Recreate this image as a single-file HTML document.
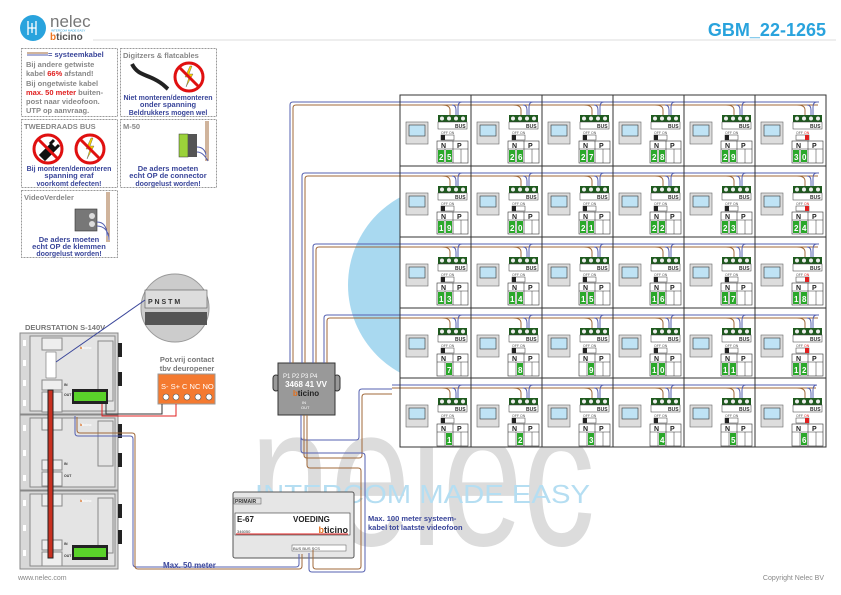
<!DOCTYPE html>
<html><head><meta charset="utf-8"><style>
html,body{margin:0;padding:0;background:#fff}
svg{display:block;font-family:"Liberation Sans",sans-serif}
</style></head><body>
<svg id="s" width="841" height="595" viewBox="0 0 841 595" xmlns="http://www.w3.org/2000/svg">
<!-- watermark -->
<circle cx="448" cy="285" r="100" fill="#a9d9f0"/>
<rect x="408" y="230" width="12" height="120" fill="#fff"/>
<text x="250" y="545" font-size="200" fill="#dcdcdc" textLength="345" lengthAdjust="spacingAndGlyphs">nelec</text>
<text x="255" y="503" font-size="26" fill="#b5def2" textLength="335" lengthAdjust="spacingAndGlyphs">INTERCOM MADE EASY</text>

<!-- header -->
<circle cx="33" cy="28" r="13" fill="#29a3dd"/>
<path d="M28 21v14M32 23v10M36 21v14M28 28h8" stroke="#fff" stroke-width="1.3" fill="none"/>
<text x="50" y="27" font-size="17" fill="#777">nelec</text>
<text x="51" y="31.5" font-size="3" fill="#29a3dd">INTERCOM MADE EASY</text>
<text x="50" y="40" font-size="10" font-weight="bold" fill="#ee7722">b<tspan fill="#555">ticino</tspan></text>
<line x1="93" y1="40" x2="836" y2="40" stroke="#ddd" stroke-width="1"/>
<text x="826" y="36" font-size="18" font-weight="bold" fill="#29a3dd" text-anchor="end">GBM_22-1265</text>

<!-- left info boxes -->
<g fill="none" stroke="#999" stroke-dasharray="2,1" stroke-width="1">
<rect x="21.5" y="48.5" width="96" height="68"/>
<rect x="120.5" y="48.5" width="96" height="68"/>
<rect x="21.5" y="119.5" width="96" height="68"/>
<rect x="120.5" y="119.5" width="96" height="68"/>
<rect x="21.5" y="190.5" width="96" height="67"/>
</g>
<g font-size="7.5" font-weight="bold">
<line x1="27" y1="53" x2="48" y2="53" stroke="#a0693a"/><line x1="27" y1="55" x2="48" y2="55" stroke="#5560b0"/>
<text x="48" y="57" fill="#3a469a">= systeemkabel</text>
<text x="26" y="67" fill="#888">Bij andere getwiste</text>
<text x="26" y="76" fill="#888">kabel <tspan fill="#e02020">66%</tspan> afstand!</text>
<text x="26" y="86" fill="#888">Bij ongetwiste kabel</text>
<text x="26" y="95" fill="#e02020">max. 50 meter <tspan fill="#888">buiten-</tspan></text>
<text x="26" y="104" fill="#888">post naar videofoon.</text>
<text x="26" y="113" fill="#888">UTP op aanvraag.</text>

<text x="123" y="58" fill="#888">Digitzers &amp; flatcables</text>
<path d="M132 64c5 10 12 10 22 15s10 7 14 10" stroke="#222" stroke-width="4" fill="none"/>
<circle cx="189" cy="77" r="14" fill="#fff" stroke="#e01010" stroke-width="3"/>
<path d="M190 66l-5 11h4l-3 10 7-13h-4l3-8z" fill="#f5d000" stroke="#555" stroke-width=".4"/>
<line x1="179" y1="67" x2="199" y2="87" stroke="#e01010" stroke-width="3"/>
<text x="168" y="100" fill="#3a469a" text-anchor="middle" font-size="7">Niet monteren/demonteren</text>
<text x="168" y="107" fill="#3a469a" text-anchor="middle">onder spanning</text>
<text x="168" y="115" fill="#3a469a" text-anchor="middle" font-size="7">Beldrukkers mogen wel</text>

<text x="24" y="129" fill="#888">TWEEDRAADS BUS</text>
<circle cx="48" cy="149" r="14" fill="#fff" stroke="#e01010" stroke-width="3"/>
<path d="M41 155l10-10 4 4-10 10z M50 144l4-4M55 149l4-4" stroke="#111" stroke-width="3" fill="#111"/>
<line x1="38" y1="139" x2="58" y2="159" stroke="#e01010" stroke-width="3"/>
<circle cx="90" cy="149" r="14" fill="#fff" stroke="#e01010" stroke-width="3"/>
<path d="M91 138l-5 11h4l-3 10 7-13h-4l3-8z" fill="#f5d000" stroke="#555" stroke-width=".4"/>
<line x1="80" y1="139" x2="100" y2="159" stroke="#e01010" stroke-width="3"/>
<text x="69" y="171" fill="#3a469a" text-anchor="middle" font-size="7">Bij monteren/demonteren</text>
<text x="69" y="178" fill="#3a469a" text-anchor="middle">spanning eraf</text>
<text x="69" y="186" fill="#3a469a" text-anchor="middle" font-size="7">voorkomt defecten!</text>

<text x="123" y="129" fill="#888">M-50</text>
<rect x="179" y="134" width="9" height="23" fill="#9bd23a" stroke="#333" stroke-width=".5"/>
<rect x="188" y="134" width="9" height="23" fill="#555"/>
<path d="M206 121v40M208 121v40" stroke="#a0693a" stroke-width="1"/>
<path d="M197 147c5 0 8 3 9 8M197 152c5 0 8 4 11 9" stroke="#5560b0" fill="none"/>
<text x="168" y="171" fill="#3a469a" text-anchor="middle">De aders moeten</text>
<text x="168" y="178" fill="#3a469a" text-anchor="middle">echt OP de connector</text>
<text x="168" y="186" fill="#3a469a" text-anchor="middle" font-size="7">doorgelust worden!</text>

<text x="24" y="200" fill="#888">VideoVerdeler</text>
<rect x="75" y="209" width="22" height="22" fill="#777" stroke="#333" stroke-width=".6"/>
<circle cx="92" cy="216" r="3" fill="#ddd"/><circle cx="92" cy="224" r="3" fill="#ddd"/>
<path d="M107 192v50M109 192v50" stroke="#a0693a"/>
<path d="M97 222c6 0 10 4 10 14M97 226c6 0 12 4 12 14" stroke="#5560b0" fill="none"/>
<text x="69" y="242" fill="#3a469a" text-anchor="middle">De aders moeten</text>
<text x="69" y="249" fill="#3a469a" text-anchor="middle">echt OP de klemmen</text>
<text x="69" y="256" fill="#3a469a" text-anchor="middle" font-size="7">doorgelust worden!</text>
</g>

<!-- deurstation -->
<text x="25" y="330" font-size="7.5" font-weight="bold" fill="#777">DEURSTATION S-140V</text>
<g stroke="#888" stroke-width="1">
<rect x="20" y="333" width="98" height="81" fill="#d8d8d8"/>
<rect x="20" y="415" width="98" height="75" fill="#d8d8d8"/>
<rect x="20" y="491" width="98" height="78" fill="#d8d8d8"/>
<rect x="30" y="336" width="85" height="75" fill="#e4e4e4"/>
<rect x="30" y="418" width="85" height="69" fill="#e4e4e4"/>
<rect x="30" y="494" width="85" height="72" fill="#e4e4e4"/>
<rect x="42" y="338" width="20" height="12" fill="#eee"/>
<rect x="42" y="418" width="20" height="12" fill="#eee"/>
<rect x="42" y="494" width="20" height="12" fill="#eee"/>
<rect x="42" y="380" width="20" height="10" fill="#eee"/><rect x="42" y="392" width="20" height="20" fill="#eee"/>
<rect x="42" y="460" width="20" height="10" fill="#eee"/><rect x="42" y="472" width="20" height="14" fill="#eee"/>
<rect x="42" y="540" width="20" height="10" fill="#eee"/><rect x="42" y="552" width="20" height="14" fill="#eee"/>
<rect x="98" y="341" width="15" height="60" fill="none"/>
<rect x="98" y="421" width="15" height="45" fill="none"/>
<rect x="98" y="498" width="15" height="55" fill="none"/>
</g>
<rect x="46" y="352" width="10" height="26" fill="#fff" stroke="#555" stroke-width=".5"/>
<g fill="#222"><rect x="118" y="343" width="4" height="14"/><rect x="118" y="372" width="4" height="14"/><rect x="118" y="424" width="4" height="14"/><rect x="118" y="453" width="4" height="14"/><rect x="118" y="504" width="4" height="14"/><rect x="118" y="530" width="4" height="14"/></g>
<g fill="#fff"><rect x="23" y="340" width="3" height="6"/><rect x="23" y="360" width="3" height="6"/><rect x="23" y="380" width="3" height="6"/><rect x="23" y="400" width="3" height="6"/><rect x="23" y="425" width="3" height="6"/><rect x="23" y="450" width="3" height="6"/><rect x="23" y="475" width="3" height="6"/><rect x="23" y="500" width="3" height="6"/><rect x="23" y="525" width="3" height="6"/><rect x="23" y="550" width="3" height="6"/></g>
<rect x="48" y="390" width="5" height="168" fill="#c83020" stroke="#222" stroke-width="1"/>
<rect x="72" y="389" width="36" height="15" fill="#222"/>
<rect x="74" y="392" width="32" height="9" fill="#5ad22a"/>
<rect x="72" y="545" width="36" height="15" fill="#222"/>
<rect x="74" y="548" width="32" height="9" fill="#5ad22a"/>
<g font-size="3.5" font-weight="bold" fill="#333"><text x="64" y="386">IN</text><text x="64" y="396">OUT</text><text x="64" y="465">IN</text><text x="64" y="477">OUT</text><text x="64" y="545">IN</text><text x="64" y="557">OUT</text>
<text x="80" y="349" fill="#e07020">b<tspan fill="#fff">ticino</tspan></text><text x="80" y="426" fill="#e07020">b<tspan fill="#fff">ticino</tspan></text><text x="80" y="502" fill="#e07020">b<tspan fill="#fff">ticino</tspan></text></g>
<!-- zoom circle -->
<circle cx="175" cy="308" r="34" fill="#ccc" stroke="#999"/>
<rect x="145" y="290" width="62" height="18" fill="#ddd" stroke="#555" stroke-width=".6"/>
<rect x="145" y="312" width="62" height="13" fill="#555"/>
<text x="148" y="304" font-size="7" font-weight="bold" fill="#333">P  N S T M</text>
<line x1="145" y1="300" x2="56" y2="362" stroke="#3a469a" stroke-width="1"/>
<!-- pot vrij -->
<text x="187" y="362" font-size="7.5" font-weight="bold" fill="#777" text-anchor="middle">Pot.vrij contact</text>
<text x="187" y="371" font-size="7.5" font-weight="bold" fill="#777" text-anchor="middle">tbv deuropener</text>
<rect x="158" y="374" width="57" height="30" fill="#f47a30" stroke="#999"/>
<text x="161" y="389" font-size="7.5" fill="#fff">S-  S+ C NC NO</text>
<g fill="#fff" stroke="#555" stroke-width=".6"><circle cx="166" cy="397" r="3"/><circle cx="176" cy="397" r="3"/><circle cx="187" cy="397" r="3"/><circle cx="198" cy="397" r="3"/><circle cx="209" cy="397" r="3"/></g>
<path d="M106 404v10h56v-10" stroke="#333" fill="none"/>
<path d="M102 404v12h74v-12" stroke="#e02020" fill="none"/>

<!-- distributor -->
<rect x="273" y="375" width="6" height="16" rx="3" fill="#999" stroke="#333"/>
<rect x="334" y="375" width="6" height="16" rx="3" fill="#999" stroke="#333"/>
<rect x="278" y="363" width="57" height="52" fill="#999" stroke="#333"/>
<text x="306" y="387" font-size="8" font-weight="bold" fill="#fff" text-anchor="middle">3468 41  VV</text>
<text x="306" y="396" font-size="8" font-weight="bold" fill="#e07020" text-anchor="middle">b<tspan fill="#222">ticino</tspan></text>
<text x="283" y="378" font-size="6" fill="#fff">P1 P2 P3 P4</text>
<text x="302" y="404" font-size="4" fill="#fff">IN</text>
<text x="301" y="409" font-size="4" fill="#fff">OUT</text>

<!-- voeding -->
<rect x="233" y="492" width="121" height="66" rx="2" fill="#e6e6e6" stroke="#555"/>
<rect x="234" y="498" width="27" height="6" fill="#ddd" stroke="#555" stroke-width=".5"/>
<text x="235" y="503" font-size="5" font-weight="bold" fill="#333">PRIMAIR</text>
<rect x="235" y="513" width="115" height="22" fill="#fff" stroke="#333" stroke-width=".6"/>
<line x1="236" y1="534" x2="348" y2="534" stroke="#e02020"/>
<text x="237" y="522" font-size="8" font-weight="bold" fill="#222">E-67</text>
<text x="293" y="522" font-size="8" font-weight="bold" fill="#222">VOEDING</text>
<text x="237" y="533" font-size="4" fill="#333">346050</text>
<text x="348" y="533" font-size="9" font-weight="bold" fill="#e07020" text-anchor="end">b<tspan fill="#222">ticino</tspan></text>
<rect x="292" y="545" width="54" height="6" fill="#fff" stroke="#555" stroke-width=".5"/>
<text x="293" y="550" font-size="4" fill="#333">BUS BUS  SCS</text>
<text x="368" y="521" font-size="7.5" font-weight="bold" fill="#3a469a">Max. 100 meter systeem-</text>
<text x="368" y="530" font-size="7.5" font-weight="bold" fill="#3a469a">kabel tot laatste videofoon</text>
<text x="163" y="568" font-size="8" font-weight="bold" fill="#3a469a">Max. 50 meter</text>

<!-- main wires -->
<g fill="none" stroke-width="1">
<path d="M301 415v22q0 3 3 3h52q3 0 3 -3v-45q0 -3 3 -3h30" stroke="#5560b0"/>
<path d="M304 415v40q0 3 3 3h52q3 0 3-3v-58q0-3 3-3h27" stroke="#a0693a"/>
<path d="M307 415v50q0 3 3 3h48q3 0 3 3v95q0 3-3 3h-42q-3 0-3-3v-16" stroke="#a0693a"/>
<path d="M301 437v13q0 3 3 3h58q3 0 3 3v113q0 3-3 3h-50q-3 0-3-3v-16" stroke="#5560b0" />
<path d="M299 554v10q0 3-3 3h-160q-3 0-3-3v-125q0-3-3-3h-52q-3 0-3-3v-17" stroke="#5560b0"/>
<path d="M302 554v12q0 3-3 3h-161q-3 0-3-3v-130q0-3-3-3h-52q-3 0-3-3v-13" stroke="#a0693a"/>
</g>
<g id="grid"></g>
<text x="18" y="580" font-size="7" fill="#888">www.nelec.com</text>
<text x="824" y="580" font-size="7" fill="#888" text-anchor="end">Copyright Nelec BV</text>
</svg>
<script>
var g=document.getElementById('grid'),h='';
var xs=[400,471,542,613,684,755,826],ys=[95,166,237,308,378,447];
var nums=[[25,26,27,28,29,30],[19,20,21,22,23,24],[13,14,15,16,17,18],[7,8,9,10,11,12],[1,2,3,4,5,6]];
h+='<rect x="400" y="95" width="426" height="352" fill="#fff" stroke="#333" stroke-width="1"/>';
for(var r=0;r<5;r++){var y0=ys[r];
 var lx=[290,302,313,324,360][r];
 if(r<4){h+='<path d="M'+(lx)+' 363V'+(y0+10)+'q0-3 3-3h'+(xs[6]-lx-10)+'" stroke="#5560b0" fill="none"/>';
 h+='<path d="M'+(lx+3)+' 363V'+(y0+13)+'q0-3 3-3h'+(xs[6]-lx-14)+'" stroke="#a0693a" fill="none"/>';}
 else{h+='<path d="M392 '+(y0+7)+'h'+(xs[6]-402)+'" stroke="#5560b0"/><path d="M392 '+(y0+10)+'h'+(xs[6]-402)+'" stroke="#a0693a"/>';}
 for(var c=0;c<6;c++){var x0=xs[c];
  h+='<line x1="'+x0+'" y1="'+y0+'" x2="'+x0+'" y2="'+ys[r+1]+'" stroke="#333"/>';
  var bx=x0+38;
  h+='<path d="M'+(bx+14)+' '+(y0+10)+'q4 0 4 5v11M'+(bx+24)+' '+(y0+7)+'q-4 0-4 5v14" stroke="#5560b0" fill="none"/>';
  h+='<path d="M'+(bx+4)+' '+(y0+10)+'q8 0 8 5v11" stroke="#a0693a" fill="none"/>';
  h+='<rect x="'+(x0+6)+'" y="'+(y0+27)+'" width="22" height="22" fill="#ddd" stroke="#666" stroke-width=".6"/><rect x="'+(x0+9)+'" y="'+(y0+30)+'" width="16" height="11" fill="#bfe3f5" stroke="#333" stroke-width=".6"/>';
  h+='<rect x="'+bx+'" y="'+(y0+20)+'" width="29" height="7" fill="#1f5a1f"/>';
  for(var k=0;k<4;k++)h+='<circle cx="'+(bx+4+k*7)+'" cy="'+(y0+23.5)+'" r="2" fill="#eee"/>';
  h+='<rect x="'+bx+'" y="'+(y0+27)+'" width="29" height="7" fill="#fff" stroke="#333" stroke-width=".5"/><text x="'+(bx+17)+'" y="'+(y0+33)+'" font-size="5" font-weight="bold" fill="#333">BUS</text>';
  h+='<text x="'+(bx+3)+'" y="'+(y0+39)+'" font-size="3.5" fill="#555">OFF <tspan fill="'+(c==5?'#e02020':'#555')+'">ON</tspan></text>';
  h+='<rect x="'+(bx+3)+'" y="'+(y0+40)+'" width="13" height="5" fill="#fff" stroke="#333" stroke-width=".5"/><rect x="'+(c==5?bx+12:bx+3)+'" y="'+(y0+40)+'" width="4" height="5" fill="'+(c==5?'#e02020':'#222')+'"/>';
  var ty=y0+46;
  h+='<rect x="'+(bx-1)+'" y="'+ty+'" width="31" height="22" fill="#fff" stroke="#333" stroke-width=".6"/><line x1="'+(bx+15)+'" y1="'+ty+'" x2="'+(bx+15)+'" y2="'+(ty+22)+'" stroke="#333" stroke-width=".6"/><line x1="'+(bx-1)+'" y1="'+(ty+8)+'" x2="'+(bx+30)+'" y2="'+(ty+8)+'" stroke="#333" stroke-width=".6"/>';
  h+='<line x1="'+(bx+7)+'" y1="'+(ty+8)+'" x2="'+(bx+7)+'" y2="'+(ty+22)+'" stroke="#333" stroke-width=".5"/><line x1="'+(bx+23)+'" y1="'+(ty+8)+'" x2="'+(bx+23)+'" y2="'+(ty+22)+'" stroke="#333" stroke-width=".5"/>';
  h+='<text x="'+(bx+3)+'" y="'+(ty+7)+'" font-size="7" font-weight="bold" fill="#222">N</text><text x="'+(bx+19)+'" y="'+(ty+7)+'" font-size="7" font-weight="bold" fill="#222">P</text>';
  var n=String(nums[r][c]);
  if(n.length==2){h+='<rect x="'+bx+'" y="'+(ty+9)+'" width="6" height="12" fill="#2aa82a"/><rect x="'+(bx+8)+'" y="'+(ty+9)+'" width="6" height="12" fill="#2aa82a"/><text x="'+(bx+1)+'" y="'+(ty+19)+'" font-size="8" font-weight="bold" fill="#fff">'+n[0]+'</text><text x="'+(bx+9)+'" y="'+(ty+19)+'" font-size="8" font-weight="bold" fill="#fff">'+n[1]+'</text>';}
  else{h+='<rect x="'+(bx+8)+'" y="'+(ty+9)+'" width="6" height="12" fill="#2aa82a"/><text x="'+(bx+9)+'" y="'+(ty+19)+'" font-size="8" font-weight="bold" fill="#fff">'+n+'</text>';}
 }
 h+='<line x1="400" y1="'+y0+'" x2="826" y2="'+y0+'" stroke="#333"/>';
}
g.innerHTML=h;
</script>
</body></html>
